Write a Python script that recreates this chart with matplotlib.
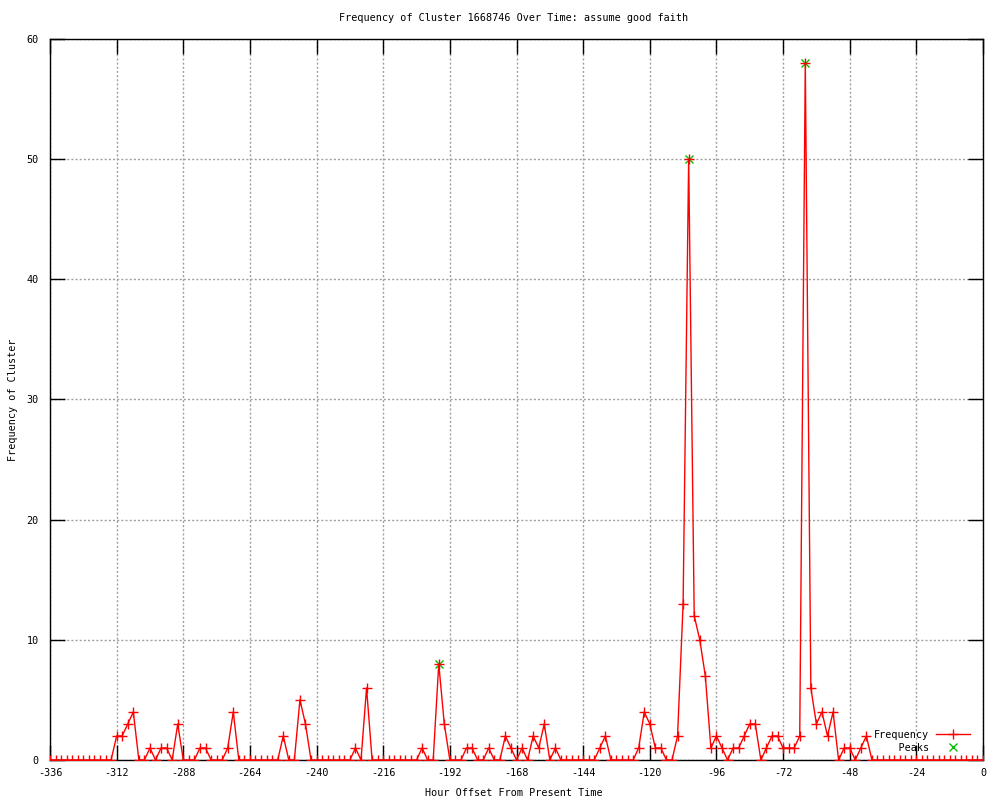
import matplotlib
matplotlib.use("Agg")
import matplotlib.pyplot as plt
import numpy as np

# Data: one value every 2 hours, from -336 h to 0 h
hours = np.arange(-336, 1, 2)
frequency = [
    0, 0, 0, 0, 0, 0, 0, 0, 0, 0, 0, 0,
    2, 2, 3, 4,
    0, 0, 1, 0, 1, 1, 0, 3, 0, 0, 0, 1, 1, 0, 0, 0, 1, 4,
    0, 0, 0, 0, 0, 0, 0, 0,
    2, 0, 0, 5, 3, 0,
    0, 0, 0, 0, 0, 0, 0,
    1, 0, 6, 0,
    0, 0, 0, 0, 0, 0, 0, 0,
    1, 0, 0, 8, 3, 0, 0, 0, 1, 1, 0, 0, 1, 0, 0, 2, 1, 0, 1, 0, 2, 1, 3, 0, 1,
    0, 0, 0, 0, 0, 0, 0,
    1, 2,
    0, 0, 0, 0, 0,
    1, 4, 3, 1, 1, 0, 0, 2, 13, 50, 12, 10, 7, 1, 2, 1, 0, 1, 1, 2, 3, 3, 0,
    1, 2, 2, 1, 1, 1, 2, 58, 6, 3, 4, 2, 4, 0, 1, 1, 0, 1, 2,
    0, 0, 0, 0, 0, 0, 0, 0, 0, 0, 0, 0, 0, 0, 0, 0, 0, 0, 0, 0, 0,
]
peak_hours = [-196, -106, -64]
peak_values = [8, 50, 58]

x_ticks = np.arange(-336, 1, 24)
y_ticks = np.arange(0, 61, 10)

plt.rcParams['font.family'] = ['DejaVu Sans Mono']
plt.rcParams['font.size'] = 7.3
plt.rcParams['axes.unicode_minus'] = False

fig = plt.figure(figsize=(10, 8), dpi=100)
ax = fig.add_axes([0.05, 0.05, 0.933, 0.9013])

ax.plot(hours, frequency, color='red', linewidth=1, marker='+',
        markersize=7, markeredgewidth=1, label='Frequency', zorder=4)
ax.plot(peak_hours, peak_values, linestyle='none', color='#00c000',
        marker='x', markersize=6, markeredgewidth=1,
        label='    Peaks', zorder=3)

ax.set_xlim(-336, 0)
ax.set_ylim(0, 60)
ax.set_xticks(x_ticks)
ax.set_yticks(y_ticks)
ax.tick_params(direction='in', length=11, width=1, top=True, right=True,
               pad=6, colors='black')
ax.tick_params(axis='y', pad=8)
for s in ax.spines.values():
    s.set_linewidth(1)
ax.grid(True, color='#a0a0a0', linestyle=(0, (1.5, 1.5)), linewidth=1)

fig.text(0.514, 1 - 18 / 800, "Frequency of Cluster 1668746 Over Time: assume good faith",
         ha='center', va='center')
fig.text(0.514, 1 - 793 / 800, "Hour Offset From Present Time",
         ha='center', va='center')
fig.text(0.013, 0.5, "Frequency of Cluster", rotation=90,
         ha='center', va='center')

ax.legend(loc='lower right', bbox_to_anchor=(1.0, -0.008), frameon=False,
          markerfirst=False, handlelength=3.3, handletextpad=0.7,
          labelspacing=0.3, borderaxespad=0.9, fontsize=7.3)

fig.savefig("out.png", dpi=100)
